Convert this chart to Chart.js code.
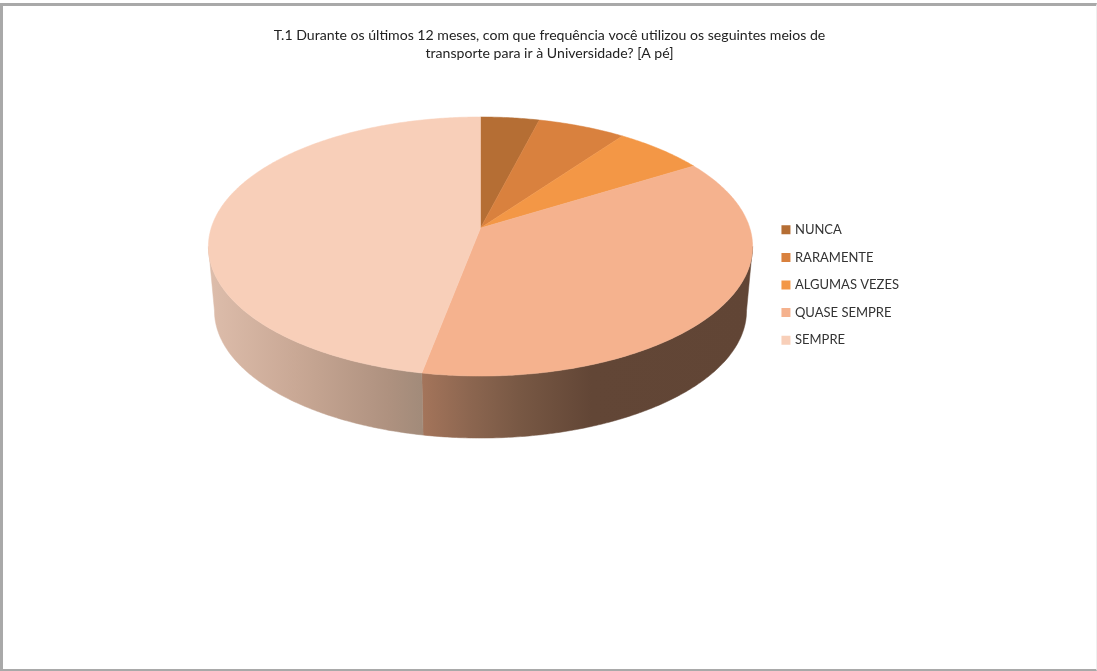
<!DOCTYPE html>
<html>
<head>
<meta charset="utf-8">
<title>T.1 A pé</title>
<script src="https://cdn.jsdelivr.net/npm/chart.js@4"></script>
<style>
    html, body { margin: 0; padding: 0; background: #fff; }
    #wrap { position: relative; width: 1097px; height: 671px; overflow: hidden; }
    #frame {
        position: absolute; left: 0; top: 3px; right: 0; bottom: 0;
        border-top: 3px solid #a9a9a9;
        border-left: 3px solid #a9a9a9;
        border-bottom: 2px solid #a9a9a9;
        border-right: 1px solid #efefef;
        pointer-events: none;
    }
    canvas { position: absolute; left: 0; top: 0; }
</style>
</head>
<body>
<div id="wrap">
    <canvas id="pieChart" width="1097" height="671"></canvas>
    <div id="frame"></div>
</div>
<script>
const titleLines = [
    'T.1 Durante os últimos 12 meses, com que frequência você utilizou os seguintes meios de',
    'transporte para ir à Universidade? [A pé]'
];
const categories = ['NUNCA', 'RARAMENTE', 'ALGUMAS VEZES', 'QUASE SEMPRE', 'SEMPRE'];
const values = [4, 6, 6.2, 36.8, 47];
const sliceColors = ['#b56e34', '#d9813e', '#f39746', '#f5b28e', '#f8cfb9'];

// Disc seen in perspective: k is the foreshortening, top face and bottom face share it
const view = {
    k: 1 / 7,
    top: { x: 480.5, y: 228, a: 126.9, b: 269.3 },
    bottom: { x: 480.5, y: 292.7, a: 124.6, b: 263.3 }
};

// Shading of the rim, only the two front slices show it
const rimShades = {
    3: { from: 420, to: 750, stops: [[0, '#a5755b'], [0.15, '#8c6650'], [0.3, '#785844'], [0.52, '#624636'], [1, '#614535']] },
    4: { from: 213, to: 421, stops: [[0, '#dcbcaa'], [0.4, '#c9a895'], [0.85, '#ae917f'], [1, '#a28b7a']] }
};

function project(face, angle) {
    const u = Math.cos(angle), v = Math.sin(angle);
    const w = 1 - view.k * v;
    return { x: face.x + face.b * u / w, y: face.y + face.a * v / w };
}

function edgePoints(face, start, end) {
    const steps = Math.max(2, Math.ceil((end - start) / 0.01));
    const pts = [];
    for (let i = 0; i <= steps; i++) {
        pts.push(project(face, start + (end - start) * i / steps));
    }
    return pts;
}

function tracePath(ctx, pts) {
    pts.forEach(p => ctx.lineTo(p.x, p.y));
}

// Replaces the flat arcs with the tilted disc, angles still come from the arc elements
const tiltedPie = {
    id: 'tiltedPie',
    beforeDatasetDraw(chart, args) {
        const ctx = chart.ctx;
        const arcs = chart.getDatasetMeta(args.index).data;

        // The rim is only seen between the two silhouette angles of the top face
        const rimStart = Math.asin(view.k);
        const rimEnd = Math.PI - rimStart;

        arcs.forEach((arc, i) => {
            const shade = rimShades[i];
            if (!shade) return;
            const start = Math.max(arc.startAngle, rimStart);
            const end = Math.min(arc.endAngle, rimEnd);
            const fill = ctx.createLinearGradient(shade.from, 0, shade.to, 0);
            shade.stops.forEach(s => fill.addColorStop(s[0], s[1]));
            ctx.beginPath();
            tracePath(ctx, edgePoints(view.top, start, end));
            tracePath(ctx, edgePoints(view.bottom, start, end).reverse());
            ctx.closePath();
            ctx.fillStyle = fill;
            ctx.strokeStyle = fill;
            ctx.lineWidth = 0.5;
            ctx.fill();
            ctx.stroke();
        });

        arcs.forEach((arc, i) => {
            ctx.beginPath();
            ctx.moveTo(view.top.x, view.top.y);
            tracePath(ctx, edgePoints(view.top, arc.startAngle, arc.endAngle));
            ctx.closePath();
            ctx.fillStyle = sliceColors[i];
            ctx.strokeStyle = sliceColors[i];
            ctx.lineWidth = 0.5;
            ctx.fill();
            ctx.stroke();
        });
        return false;
    }
};

new Chart(document.getElementById('pieChart').getContext('2d'), {
    type: 'pie',
    data: {
        labels: categories,
        datasets: [{
            data: values,
            backgroundColor: sliceColors,
            borderColor: sliceColors,
            borderWidth: 4
        }]
    },
    options: {
        responsive: false,
        animation: false,
        layout: {
            padding: { top: 20, right: 188, bottom: 121, left: 190 }
        },
        plugins: {
            title: {
                display: true,
                text: titleLines,
                color: '#222222',
                font: { family: 'Lato', size: 14.1, weight: 'normal', lineHeight: 1.3 },
                padding: { top: 6, bottom: 10 }
            },
            legend: {
                position: 'right',
                labels: {
                    boxWidth: 5,
                    boxHeight: 5,
                    padding: 14.6,
                    color: '#333333',
                    font: { family: 'Lato', size: 13 }
                }
            },
            tooltip: { enabled: false }
        }
    },
    plugins: [tiltedPie]
});
</script>
</body>
</html>
